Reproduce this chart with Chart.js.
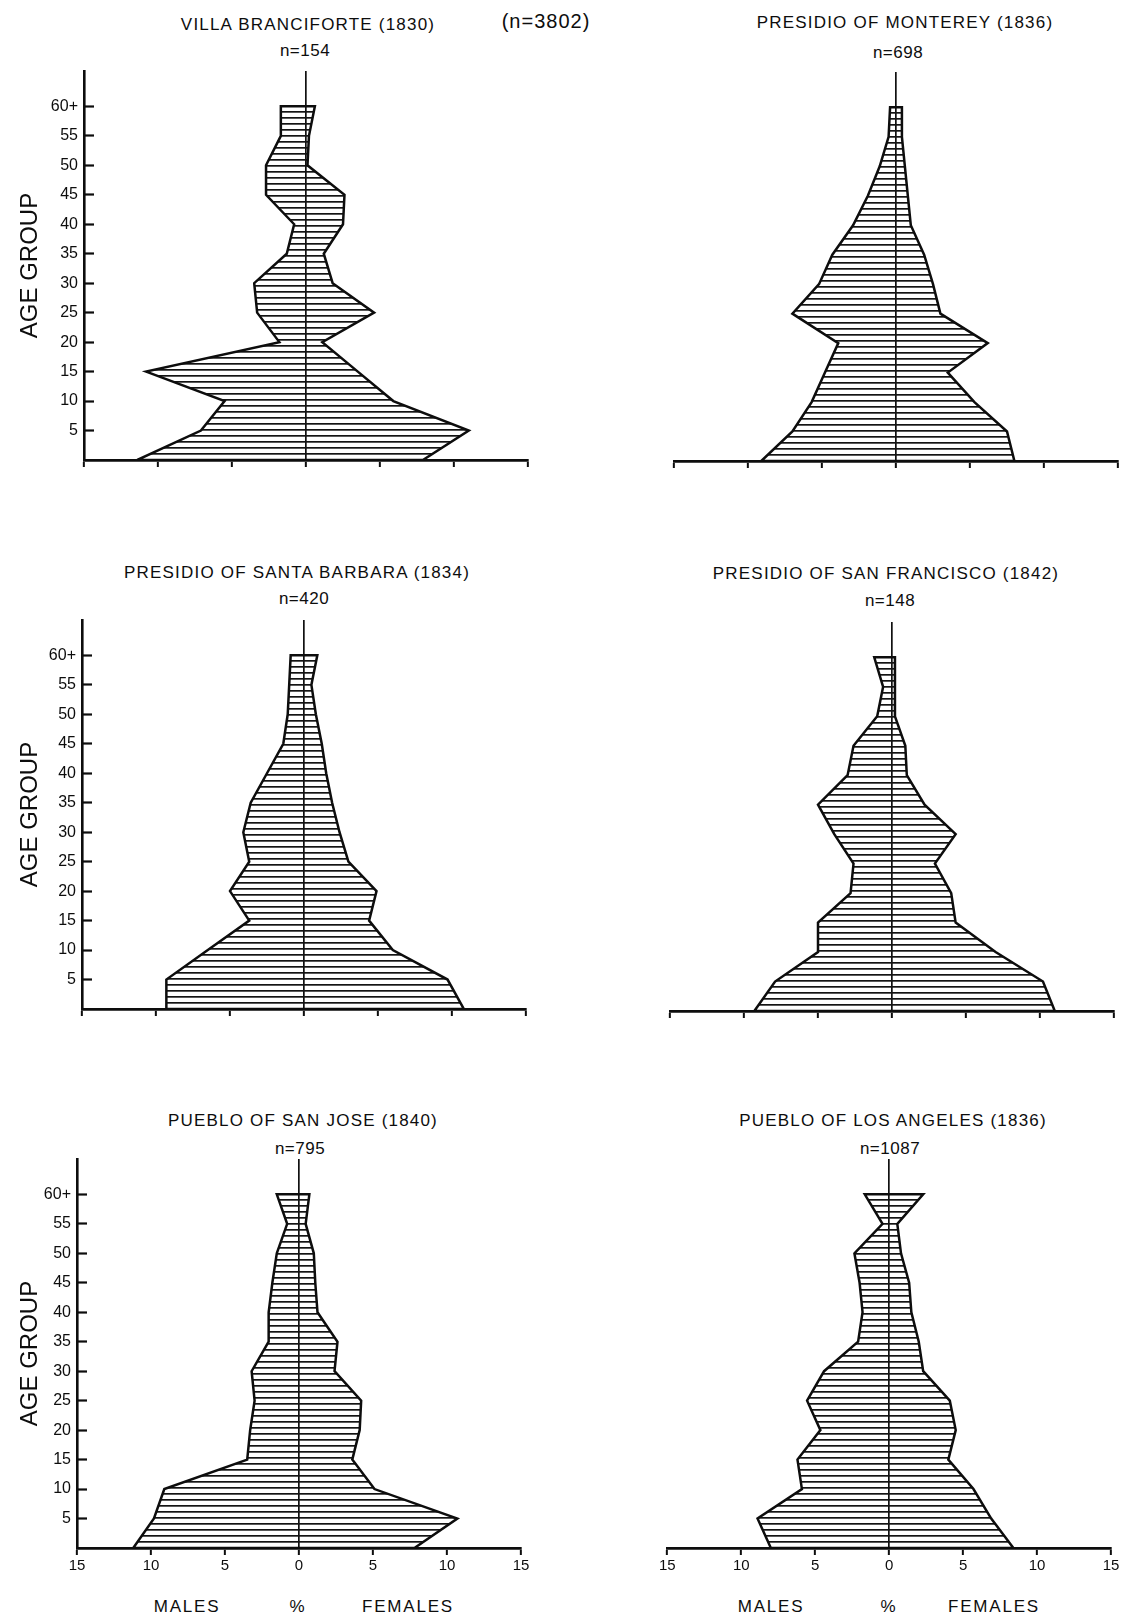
<!DOCTYPE html>
<html>
<head>
<meta charset="utf-8">
<script src="https://cdn.jsdelivr.net/npm/chart.js@4.4.1/dist/chart.umd.min.js"></script>
<style>
  html, body { margin: 0; padding: 0; background: #fff; }
  body { width: 1122px; height: 1618px; position: relative; overflow: hidden;
    font-family: "Liberation Sans", Arial, sans-serif; color: #0d0d0d; }
  .box { position: absolute; }
  .txt { position: absolute; transform: translate(-50%, -50%); white-space: nowrap; }
  .title { font-size: 17px; letter-spacing: 1.2px; }
  .n { font-size: 17px; letter-spacing: 0.5px; }
  .total { font-size: 20px; letter-spacing: 1px; }
  .axis { font-size: 17px; letter-spacing: 1.8px; }
</style>
</head>
<body>
<div class="txt total" style="left:546px;top:21px">(n=3802)</div>

<div class="txt title" style="left:308px;top:25px">VILLA BRANCIFORTE (1830)</div>
<div class="txt n" style="left:305px;top:51px">n=154</div>
<div class="txt title" style="left:905px;top:23px">PRESIDIO OF MONTEREY (1836)</div>
<div class="txt n" style="left:898px;top:53px">n=698</div>

<div class="txt title" style="left:297px;top:573px">PRESIDIO OF SANTA BARBARA (1834)</div>
<div class="txt n" style="left:304px;top:599px">n=420</div>
<div class="txt title" style="left:886px;top:574px">PRESIDIO OF SAN FRANCISCO (1842)</div>
<div class="txt n" style="left:890px;top:601px">n=148</div>

<div class="txt title" style="left:303px;top:1121px">PUEBLO OF SAN JOSE (1840)</div>
<div class="txt n" style="left:300px;top:1149px">n=795</div>
<div class="txt title" style="left:893px;top:1121px">PUEBLO OF LOS ANGELES (1836)</div>
<div class="txt n" style="left:890px;top:1149px">n=1087</div>

<div class="box" style="left:0;top:61px"><canvas id="villa" width="548" height="411"></canvas></div>
<div class="box" style="left:664px;top:62px"><canvas id="monterey" width="458" height="411"></canvas></div>
<div class="box" style="left:0;top:610px"><canvas id="santaBarbara" width="546" height="411"></canvas></div>
<div class="box" style="left:660px;top:612px"><canvas id="sanFrancisco" width="458" height="411"></canvas></div>
<div class="box" style="left:0;top:1149px"><canvas id="sanJose" width="541" height="429"></canvas></div>
<div class="box" style="left:657px;top:1149px"><canvas id="losAngeles" width="465" height="429"></canvas></div>

<div class="txt axis" style="left:187px;top:1607px">MALES</div>
<div class="txt axis" style="left:298px;top:1607px">%</div>
<div class="txt axis" style="left:408px;top:1607px">FEMALES</div>
<div class="txt axis" style="left:771px;top:1607px">MALES</div>
<div class="txt axis" style="left:889px;top:1607px">%</div>
<div class="txt axis" style="left:994px;top:1607px">FEMALES</div>

<script>
// Age group points (lower bound of each 5-year group, 60 = 60+)
const ages = [0, 5, 10, 15, 20, 25, 30, 35, 40, 45, 50, 55, 60];
const ageTicks = [5, 10, 15, 20, 25, 30, 35, 40, 45, 50, 55, 60];
const yTickLabels = ['5', '10', '15', '20', '25', '30', '35', '40', '45', '50', '55', '60+'];
const xTickLabels = ['15', '10', '5', '0', '5', '10', '15'];

// Percent of population, one value per age point
const villaMales = [11.4, 7.1, 5.5, 10.8, 1.8, 3.3, 3.5, 1.3, 0.8, 2.7, 2.7, 1.7, 1.7];
const villaFemales = [7.9, 11.0, 5.9, 3.5, 1.1, 4.6, 1.8, 1.2, 2.5, 2.6, 0.1, 0.2, 0.6];

const montereyMales = [9.1, 7.0, 5.7, 4.8, 3.9, 7.0, 5.2, 4.3, 2.9, 1.9, 1.1, 0.5, 0.4];
const montereyFemales = [8.0, 7.5, 5.3, 3.5, 6.2, 3.0, 2.5, 1.9, 1.0, 0.8, 0.6, 0.4, 0.4];

const santaBarbaraMales = [9.3, 9.3, 6.5, 3.7, 5.0, 3.7, 4.1, 3.6, 2.5, 1.4, 1.1, 1.0, 0.9];
const santaBarbaraFemales = [10.8, 9.7, 6.0, 4.4, 4.9, 3.0, 2.4, 1.9, 1.5, 1.2, 0.8, 0.5, 0.9];

const sanFranciscoMales = [9.3, 7.9, 5.0, 5.0, 2.8, 2.6, 3.9, 5.0, 3.0, 2.6, 1.0, 0.6, 1.2];
const sanFranciscoFemales = [11.0, 10.2, 7.0, 4.3, 4.0, 2.9, 4.3, 2.2, 1.0, 0.9, 0.2, 0.2, 0.2];

const sanJoseMales = [11.2, 9.8, 9.1, 3.5, 3.3, 3.0, 3.2, 2.05, 2.05, 1.8, 1.5, 0.8, 1.5];
const sanJoseFemales = [7.8, 10.7, 5.1, 3.6, 4.1, 4.2, 2.4, 2.6, 1.25, 1.1, 1.0, 0.45, 0.7];

const losAngelesMales = [8.0, 8.9, 5.9, 6.2, 4.65, 5.55, 4.4, 2.1, 1.8, 2.0, 2.35, 0.45, 1.65];
const losAngelesFemales = [8.4, 6.9, 5.7, 4.0, 4.5, 4.1, 2.3, 2.0, 1.5, 1.35, 0.8, 0.55, 2.3];

Chart.defaults.font.family = '"Liberation Sans", Arial, sans-serif';
Chart.defaults.color = '#0d0d0d';

// Horizontal hatching used to fill each pyramid
const hatchCanvas = document.createElement('canvas');
hatchCanvas.width = 4;
hatchCanvas.height = 6;
const hctx = hatchCanvas.getContext('2d');
hctx.fillStyle = '#141414';
hctx.fillRect(0, 2, 4, 1.7);
const hatch = hctx.createPattern(hatchCanvas, 'repeat');

// Closed outline: males up the left side, females back down the right
const outline = (males, females) => {
  const left = ages.map((a, i) => ({ x: -males[i], y: a }));
  const right = ages.map((a, i) => ({ x: females[i], y: a })).reverse();
  return left.concat(right, [left[0]]);
};

const panels = [
  { id: 'villa', males: villaMales, females: villaFemales, yAxis: true, labels: false, yWidth: 84, padRight: 20, xHeight: 12 },
  { id: 'monterey', males: montereyMales, females: montereyFemales, yAxis: false, labels: false, yWidth: 0, padRight: 4, xHeight: 12 },
  { id: 'santaBarbara', males: santaBarbaraMales, females: santaBarbaraFemales, yAxis: true, labels: false, yWidth: 82, padRight: 20, xHeight: 12 },
  { id: 'sanFrancisco', males: sanFranciscoMales, females: sanFranciscoFemales, yAxis: false, labels: false, yWidth: 0, padRight: 4, xHeight: 12 },
  { id: 'sanJose', males: sanJoseMales, females: sanJoseFemales, yAxis: true, labels: true, yWidth: 77, padRight: 20, xHeight: 30 },
  { id: 'losAngeles', males: losAngelesMales, females: losAngelesFemales, yAxis: false, labels: true, yWidth: 0, padRight: 11, xHeight: 30 },
];

panels.forEach((p) => {
  const ctx = document.getElementById(p.id);
  // eslint-disable-next-line no-new
  new Chart(ctx, {
    type: 'scatter',
    data: {
      datasets: [{
        data: outline(p.males, p.females),
        showLine: true,
        fill: 'shape',
        backgroundColor: hatch,
        borderColor: '#0d0d0d',
        borderWidth: 2.5,
        pointRadius: 0,
        tension: 0,
      }],
    },
    options: {
      responsive: false,
      animation: false,
      events: [],
      layout: {
        padding: { top: 10, left: p.yAxis ? 0 : 10, right: p.padRight, bottom: 0 },
      },
      plugins: {
        legend: { display: false },
        tooltip: { enabled: false },
      },
      scales: {
        x: {
          type: 'linear',
          min: -15,
          max: 15,
          border: { color: '#0d0d0d', width: 2.8 },
          grid: {
            // only the zero line is drawn across the plot
            color: (c) => (c.tick && c.tick.value === 0 ? '#111' : 'rgba(0,0,0,0)'),
            lineWidth: 1.7,
            tickColor: '#0d0d0d',
            tickLength: 7,
            tickWidth: 2,
          },
          ticks: {
            stepSize: 5,
            display: p.labels,
            padding: 2,
            maxRotation: 0,
            font: { size: 15 },
            callback: (v, i) => xTickLabels[i],
          },
          afterFit: (s) => { s.height = p.xHeight; },
        },
        y: {
          type: 'linear',
          min: 0,
          max: 66,
          display: p.yAxis,
          border: { color: '#0d0d0d', width: 2.6 },
          grid: {
            drawOnChartArea: false,
            tickLength: -10,
            tickWidth: 2.2,
            tickColor: '#0d0d0d',
          },
          afterBuildTicks: (s) => { s.ticks = ageTicks.map((v) => ({ value: v })); },
          ticks: {
            padding: 16,
            font: { size: 16 },
            callback: (v, i) => yTickLabels[i],
          },
          title: {
            display: true,
            text: 'AGE GROUP',
            font: { size: 24 },
            padding: { top: 16, bottom: 0 },
          },
          afterFit: (s) => {
            // fixed width, and no extra room above/below for the end labels
            s.width = p.yWidth;
            s.paddingTop = 0;
            s.paddingBottom = 0;
          },
        },
      },
    },
  });
});
</script>
</body>
</html>
